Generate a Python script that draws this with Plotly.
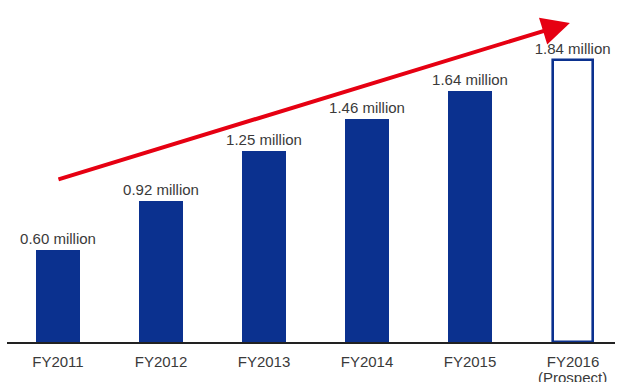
import plotly.graph_objects as go

categories = ["FY2011", "FY2012", "FY2013", "FY2014", "FY2015", "FY2016"]
sub_labels = ["", "", "", "", "", "(Prospect)"]
values = [0.60, 0.92, 1.25, 1.46, 1.64, 1.84]
value_labels = ["0.60 million", "0.92 million", "1.25 million", "1.46 million", "1.64 million", "1.84 million"]
is_prospect = [False, False, False, False, False, True]

BLUE = "#0b318f"
RED = "#e60012"
TEXT = "#3a3a3a"
FONT = "Liberation Sans, Arial, sans-serif"

x_idx = list(range(len(categories)))

fig = go.Figure()
fig.add_trace(go.Bar(
    x=x_idx,
    y=values,
    width=[0.39 if p else 0.427 for p in is_prospect],
    marker=dict(
        color=["white" if p else BLUE for p in is_prospect],
        line=dict(color=BLUE, width=[2.6 if p else 0 for p in is_prospect]),
    ),
    text=value_labels,
    textposition="outside",
    constraintext="none",
    textfont=dict(family=FONT, size=15, color=TEXT),
    cliponaxis=False,
    hoverinfo="skip",
))

# Growth arrow (from start of series to beyond last value)
fig.add_annotation(
    x=4.97, y=2.085, ax=-0.01, ay=1.06,
    xref="x", yref="y", axref="x", ayref="y",
    showarrow=True, arrowhead=2, arrowsize=1.4, arrowwidth=4,
    arrowcolor=RED, text="",
)

# Second line of category labels
for xi, s in zip(x_idx, sub_labels):
    if s:
        fig.add_annotation(
            x=xi, y=0, xref="x", yref="paper",
            text=s, showarrow=False, yanchor="middle", yshift=-35,
            font=dict(family=FONT, size=15, color=TEXT),
        )

fig.update_layout(
    width=618, height=382,
    margin=dict(l=7, r=3, t=0, b=40),
    paper_bgcolor="white", plot_bgcolor="white",
    showlegend=False,
    font=dict(family=FONT, size=15, color=TEXT),
    bargap=0,
)
fig.update_xaxes(
    range=[-0.495, 5.408],
    tickvals=x_idx, ticktext=categories,
    showline=True, linecolor="#222222", linewidth=1.5,
    showgrid=False, zeroline=False, ticks="",
    ticklabelstandoff=5,
    tickfont=dict(family=FONT, size=15, color=TEXT),
    automargin=False,
)
fig.update_yaxes(
    range=[0, 2.235], visible=False, showgrid=False, zeroline=False,
)

fig.write_html("out.html")
